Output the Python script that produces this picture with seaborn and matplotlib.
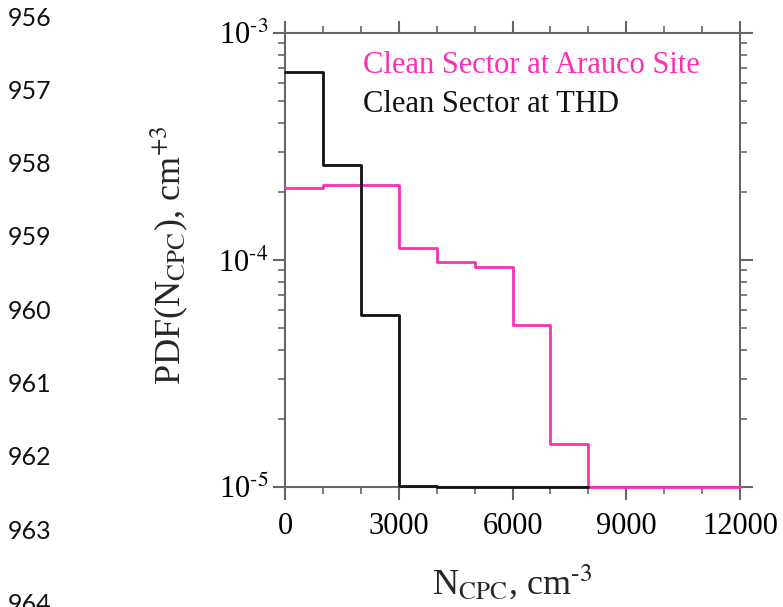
import numpy as np
import pandas as pd
import matplotlib
matplotlib.use("Agg")
import matplotlib.pyplot as plt
import seaborn as sns
from matplotlib.ticker import LogLocator, MultipleLocator, NullFormatter, FuncFormatter

# ---- data ----
bin_edges_thd = [0, 1000, 2000, 3000, 4000, 5000, 6000, 7000, 8000]
pdf_thd = [6.7e-4, 2.62e-4, 5.75e-5, 1.01e-5, 1.0e-5, 1.0e-5, 1.0e-5, 1.0e-5]

bin_edges_arauco = [0, 1000, 2000, 3000, 4000, 5000, 6000, 7000, 8000, 9000, 10000, 11000, 12000]
pdf_arauco = [2.08e-4, 2.13e-4, 2.13e-4, 1.13e-4, 9.8e-5, 9.3e-5, 5.15e-5, 1.55e-5,
              1.0e-5, 1.0e-5, 1.0e-5, 1.0e-5]

label_arauco = "Clean Sector at Arauco Site"
label_thd = "Clean Sector at THD"
line_numbers = ["956", "957", "958", "959", "960", "961", "962", "963", "964"]

xticks = [0, 3000, 6000, 9000, 12000]

pink = "#ff2db4"
black = "#111111"
spine_col = "#666666"

sns.set_theme(style="white")
plt.rcParams["font.family"] = ["Liberation Serif", "DejaVu Serif"]
plt.rcParams["mathtext.fontset"] = "stix"

def steps(edges, vals):
    return pd.DataFrame({"x": edges, "y": list(vals) + [vals[-1]]})

df_a = steps(bin_edges_arauco, pdf_arauco)
df_t = steps(bin_edges_thd, pdf_thd)

fig = plt.figure(figsize=(7.83, 6.07), dpi=100)
ax = fig.add_axes([285 / 783, 1 - 487 / 607, 455 / 783, 454 / 607])

sns.lineplot(data=df_a, x="x", y="y", drawstyle="steps-post", color=pink,
             lw=2.0, ax=ax, clip_on=False, zorder=3)
sns.lineplot(data=df_t, x="x", y="y", drawstyle="steps-post", color=black,
             lw=2.0, ax=ax, clip_on=False, zorder=4)

ax.set_yscale("log")
ax.set_xlim(0, 12000)
ax.set_ylim(1e-5, 1e-3)
ax.set_xticks(xticks)
ax.set_xticklabels([str(t) for t in xticks])
ax.xaxis.set_minor_locator(MultipleLocator(1000))
ax.yaxis.set_major_locator(LogLocator(base=10, numticks=5))
ax.yaxis.set_minor_locator(LogLocator(base=10, subs=np.arange(2, 10), numticks=20))
ax.yaxis.set_minor_formatter(NullFormatter())
ax.yaxis.set_major_formatter(FuncFormatter(
    lambda v, p: r"10$^{\text{-}%d}$" % round(-np.log10(v))))

for s in ax.spines.values():
    s.set_color(spine_col)
    s.set_linewidth(1.5)
    s.set_visible(True)

ax.tick_params(which="both", direction="out", top=True, right=True,
               bottom=True, left=True, color=spine_col, labelcolor="black")
ax.tick_params(which="major", length=9, width=1.5)
ax.tick_params(which="minor", length=5, width=1.2)
ax.tick_params(axis="x", which="major", labelsize=22, pad=9)
ax.tick_params(axis="y", which="major", labelsize=22, pad=3)

ax.set_xlabel("")
ax.set_ylabel("")

fig.text(512 / 783, 1 - 582 / 607, r"N$_{\mathrm{CPC}}$, cm$^{\text{-}3}$",
         fontsize=26, ha="center", va="center")
fig.text(169 / 783, 1 - 255 / 607, r"PDF(N$_{\mathrm{CPC}}$), cm$^{+3}$",
         fontsize=26, ha="center", va="center", rotation=90)

ax.text(0.171, 0.912, label_arauco, transform=ax.transAxes, color=pink,
        fontsize=22, ha="left", va="baseline")
ax.text(0.171, 0.826, label_thd, transform=ax.transAxes, color=black,
        fontsize=22, ha="left", va="baseline")

for i, n in enumerate(line_numbers):
    fig.text(8 / 783, 1 - (18 + 73.3 * i) / 607, n, fontsize=18,
             family=["Lato", "DejaVu Sans"], ha="left", va="center", color="#111111")

fig.savefig("out.png", dpi=100)
